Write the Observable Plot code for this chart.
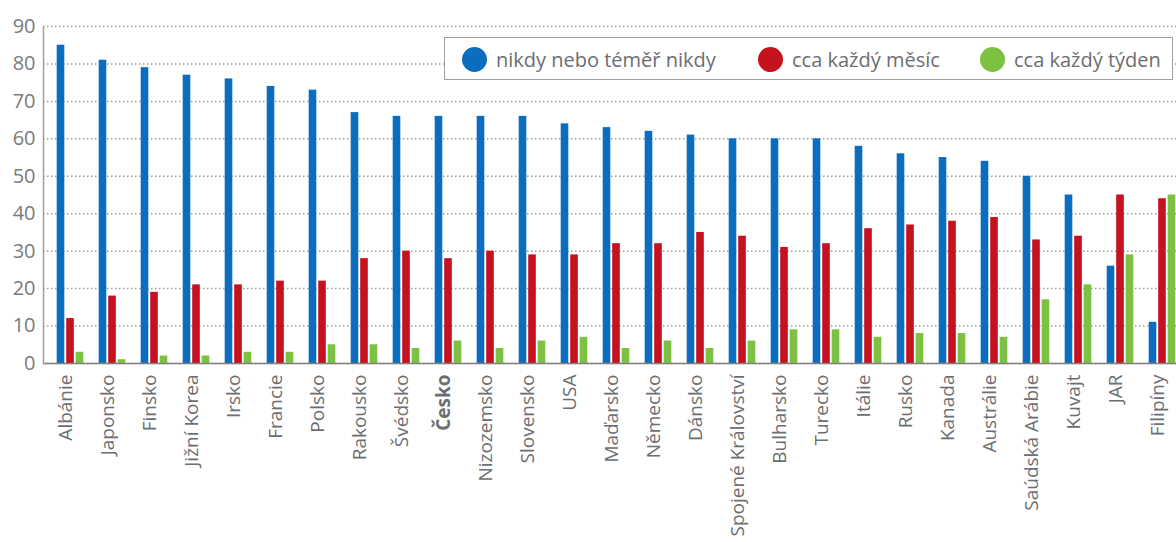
<!DOCTYPE html>
<html>
<head>
<meta charset="utf-8">
<script src="https://cdn.jsdelivr.net/npm/d3@7"></script>
<script src="https://cdn.jsdelivr.net/npm/@observablehq/plot@0.6"></script>
<style>
  html, body { margin: 0; padding: 0; background: #fff; overflow: hidden; }
  #wrap { position: relative; width: 1176px; height: 542px; }
  #legend {
    position: absolute; left: 444px; top: 37px; width: 729px; height: 43px;
    border: 1.5px solid #a0a0a0; background: #fff; box-sizing: border-box;
    font-family: "Open Sans", sans-serif; font-size: 20px; color: #6d6e71;
  }
  .item { position: absolute; top: 0; height: 43px; display: flex; align-items: center; }
  .dot { width: 25px; height: 25px; border-radius: 50%; margin-right: 9px; }
</style>
</head>
<body>
<div id="wrap"><div id="chart"></div><div id="legend"></div></div>
<script>
const countries = ["Albánie","Japonsko","Finsko","Jižní Korea","Irsko","Francie","Polsko","Rakousko","Švédsko","Česko","Nizozemsko","Slovensko","USA","Maďarsko","Německo","Dánsko","Spojené Království","Bulharsko","Turecko","Itálie","Rusko","Kanada","Austrálie","Saúdská Arábie","Kuvajt","JAR","Filipíny"];
const nikdy  = [85,81,79,77,76,74,73,67,66,66,66,66,64,63,62,61,60,60,60,58,56,55,54,50,45,26,11];
const mesic  = [12,18,19,21,21,22,22,28,30,28,30,29,29,32,32,35,34,31,32,36,37,38,39,33,34,45,44];
const tyden  = [3,1,2,2,3,3,5,5,4,6,4,6,7,4,6,4,6,9,9,7,8,8,7,17,21,29,45];
const seriesNames = ["nikdy nebo téměř nikdy","cca každý měsíc","cca každý týden"];
const seriesColors = ["#0a6dc0","#c4121f","#7cc142"];
const yTicks = [0,10,20,30,40,50,60,70,80,90];
const boldCountry = "Česko";

const data = countries.map((c, i) => ({country: c, a: nikdy[i], b: mesic[i], c: tyden[i]}));

const x0 = 43.5, step = 42.38;
const x1 = x0 + step * countries.length;
const bw = 8, off = 9.5, half = step / 2;
const ins = (o) => ({insetLeft: half + o - bw / 2, insetRight: step - (half + o - bw / 2) - bw});

const chart = Plot.plot({
  width: 1176, height: 542,
  marginTop: 26, marginBottom: 179, marginLeft: 43, marginRight: 0,
  style: {fontFamily: "Open Sans, sans-serif", fontSize: "20px", color: "#6d6e71", background: "#fff"},
  x: {domain: countries, range: [x0, x1], padding: 0, label: null},
  y: {domain: [0, 90], label: null},
  marks: [
    Plot.gridY(yTicks, {stroke: "#9a9a9a", strokeOpacity: 1, strokeWidth: 1.5, strokeDasharray: "1.5,2.5"}),
    Plot.barY(data, {x: "country", y: "a", fill: seriesColors[0], ...ins(-off)}),
    Plot.barY(data, {x: "country", y: "b", fill: seriesColors[1], ...ins(0)}),
    Plot.barY(data, {x: "country", y: "c", fill: seriesColors[2], ...ins(off)}),
    Plot.ruleY([0], {stroke: "#808080", strokeWidth: 1.5}),
    Plot.frame({anchor: "left", stroke: "#a0a0a0", strokeWidth: 1.5}),
    Plot.axisY(yTicks, {tickSize: 0, tickPadding: 8, fill: "#7a7a7a", fontSize: 20}),
    Plot.axisX({tickSize: 0, tickPadding: 11, tickRotate: -90, dx: -5, fill: "#6d6e71", fontSize: 19})
  ]
});
document.getElementById("chart").appendChild(chart);
d3.select(chart).selectAll("[aria-label='x-axis tick label'] text")
  .filter(function () { return this.textContent === boldCountry; })
  .attr("font-weight", "bold");

const legend = document.getElementById("legend");
const lefts = [17, 313, 535];
seriesNames.forEach((name, i) => {
  const it = document.createElement("div");
  it.className = "item";
  it.style.left = lefts[i] + "px";
  const dot = document.createElement("span");
  dot.className = "dot";
  dot.style.background = seriesColors[i];
  const t = document.createElement("span");
  t.textContent = name;
  it.appendChild(dot); it.appendChild(t);
  legend.appendChild(it);
});
</script>
</body>
</html>
